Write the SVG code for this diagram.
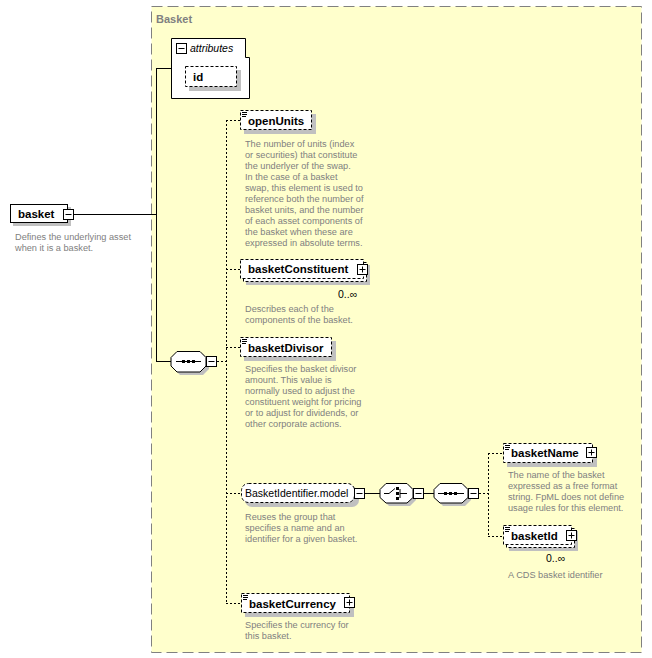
<svg xmlns="http://www.w3.org/2000/svg" xmlns:xlink="http://www.w3.org/1999/xlink" width="652" height="658" viewBox="0 0 652 658">
<style>
.bg{fill:#fff}
.area{fill:#ffffcc;stroke:#808080;stroke-dasharray:11,5}
.box{fill:#fff;stroke:#000;stroke-dasharray:3,2}
.sbox{fill:#fff;stroke:#000}
.shadow{fill:#c0c0c0}
.name{font-family:"Liberation Sans",Arial,sans-serif;font-weight:bold;font-size:11.5px;fill:#000}
.plain{font-family:"Liberation Sans",Arial,sans-serif;font-size:10.5px;fill:#000}
.desc{font-family:"Liberation Sans",Arial,sans-serif;font-size:9.2px;fill:#808080}
.title{font-family:"Liberation Sans",Arial,sans-serif;font-weight:bold;font-size:11px;fill:#808080}
.conn{stroke:#000;fill:none}
.dash{stroke-dasharray:2,2}
.ico{stroke:#000;fill:none}
</style>
<defs>
<g id="minus"><rect x="0" y="0" width="10" height="10" fill="#fff" stroke="#000"/><path d="M2,5H8" stroke="#000"/></g>
<g id="plus"><rect x="0" y="0" width="10" height="10" fill="#fff" stroke="#000"/><path d="M2,5H8M5,2V8" stroke="#000"/></g>
<g id="simple"><path d="M2,2.5H7M2,4.5H7M2,6.5H6" stroke="#000" stroke-width="1"/></g>
</defs>
<rect class="bg" x="0" y="0" width="652" height="658"/>
<g id="basket-group">
<rect class="area" x="151.5" y="6.5" width="490" height="646"/>
<text class="title" x="156" y="23">Basket</text>
</g>
<g id="connectors">
<path class="conn" d="M74,214.5H156.5M156.5,68V361.5M156,68.5H171M156,361.5H171"/>
<path class="conn dash" d="M217,361.5H226.5M226.5,120V603M226,120.5H240M226,269.5H240M226,347.5H240M226,493.5H241M226,603.5H241"/>
<path class="conn" d="M365,493.5H380M424,493.5H434"/>
<path class="conn dash" d="M479,493.5H488.5M488.5,453V536M488,453.5H503M488,536.5H503"/>
</g>
<g id="node-basket">
<rect class="shadow" x="13" y="207" width="58" height="19"/>
<rect class="sbox" x="10.5" y="204.5" width="57" height="18"/>
<text class="name" x="18" y="218">basket</text>
<use xlink:href="#minus" x="63.5" y="209.5"/>
<text class="desc" x="15" y="240">Defines the underlying asset</text>
<text class="desc" x="15" y="251">when it is a basket.</text>
</g>
<g id="node-attributes">
<path class="sbox" d="M171.5,38.5H245.5V57.5H249.5V98.5H171.5Z"/>
<use xlink:href="#minus" x="176.5" y="43.5"/>
<text class="plain" x="190" y="52" font-style="italic">attributes</text>
</g>
<g id="node-id">
<rect class="shadow" x="189" y="70" width="52" height="21"/>
<rect class="box" x="185.5" y="66.5" width="51" height="20"/>
<text class="name" x="193" y="81">id</text>
</g>
<g id="node-sequence">
<path class="shadow" d="M180,354H203L209,360V369L203,375H180L174,369V360Z"/>
<path class="sbox" d="M177,351.5H200L206,357.5V366L200,372H177L171,366V357.5Z"/>
<path class="ico" d="M176,361.5H201"/>
<rect x="182" y="360" width="3" height="3" fill="#000"/><rect x="187" y="360" width="3" height="3" fill="#000"/><rect x="192" y="360" width="3" height="3" fill="#000"/>
<use xlink:href="#minus" x="206.5" y="356.5"/>
</g>
<g id="node-openUnits">
<rect class="shadow" x="244" y="114" width="72" height="20"/>
<rect class="box" x="240.5" y="110.5" width="71" height="19"/>
<use xlink:href="#simple" x="240" y="110"/>
<text class="name" x="248" y="125">openUnits</text>
<text class="desc" x="245" y="147">The number of units (index</text>
<text class="desc" x="245" y="158">or securities) that constitute</text>
<text class="desc" x="245" y="169">the underlyer of the swap.</text>
<text class="desc" x="245" y="180">In the case of a basket</text>
<text class="desc" x="245" y="191">swap, this element is used to</text>
<text class="desc" x="245" y="202">reference both the number of</text>
<text class="desc" x="245" y="213">basket units, and the number</text>
<text class="desc" x="245" y="224">of each asset components of</text>
<text class="desc" x="245" y="235">the basket when these are</text>
<text class="desc" x="245" y="246">expressed in absolute terms.</text>
</g>
<g id="node-basketConstituent">
<rect class="shadow" x="246" y="265" width="124" height="20"/>
<rect class="box" x="243.5" y="262.5" width="123" height="19"/>
<rect class="box" x="240.5" y="259.5" width="123" height="19"/>
<text class="name" x="248" y="273">basketConstituent</text>
<use xlink:href="#plus" x="357.5" y="264.5"/>
<text class="plain" x="338" y="298">0..∞</text>
<text class="desc" x="245" y="312">Describes each of the</text>
<text class="desc" x="245" y="323">components of the basket.</text>
</g>
<g id="node-basketDivisor">
<rect class="shadow" x="244" y="341" width="92" height="20"/>
<rect class="box" x="240.5" y="337.5" width="91" height="19"/>
<use xlink:href="#simple" x="240" y="337"/>
<text class="name" x="248" y="352">basketDivisor</text>
<text class="desc" x="245" y="372">Specifies the basket divisor</text>
<text class="desc" x="245" y="383">amount. This value is</text>
<text class="desc" x="245" y="394">normally used to adjust the</text>
<text class="desc" x="245" y="405">constituent weight for pricing</text>
<text class="desc" x="245" y="416">or to adjust for dividends, or</text>
<text class="desc" x="245" y="427">other corporate actions.</text>
</g>
<g id="node-BasketIdentifier">
<rect class="shadow" x="245" y="487" width="114" height="20" rx="7"/>
<rect class="box" x="241.5" y="483.5" width="113" height="19" rx="7"/>
<text class="plain" x="245" y="497">BasketIdentifier.model</text>
<use xlink:href="#minus" x="354.5" y="488.5"/>
<text class="desc" x="245" y="520">Reuses the group that</text>
<text class="desc" x="245" y="531">specifies a name and an</text>
<text class="desc" x="245" y="542">identifier for a given basket.</text>
</g>
<g id="node-choice">
<path class="shadow" d="M389,486H410L416,492V500L410,506H389L383,500V492Z"/>
<path class="sbox" d="M386,483.5H407L413,489.5V497.5L407,503H386L380,497.5V489.5Z"/>
<path class="ico" d="M384,493.5H389L395,488.5M400,489V498M400,493.5H407"/>
<rect x="396" y="487" width="3" height="3" fill="#000"/><rect x="396" y="492" width="3" height="3" fill="#000"/><rect x="396" y="497" width="3" height="3" fill="#000"/>
<use xlink:href="#minus" x="413.5" y="488.5"/>
</g>
<g id="node-sequence2">
<path class="shadow" d="M443,486H465L471,492V500L465,506H443L437,500V492Z"/>
<path class="sbox" d="M440,483.5H462L468,489.5V497.5L462,503H440L434,497.5V489.5Z"/>
<path class="ico" d="M438,493.5H464"/>
<rect x="444" y="492" width="3" height="3" fill="#000"/><rect x="449" y="492" width="3" height="3" fill="#000"/><rect x="454" y="492" width="3" height="3" fill="#000"/>
<use xlink:href="#minus" x="468.5" y="488.5"/>
</g>
<g id="node-basketName">
<rect class="shadow" x="507" y="447" width="90" height="20"/>
<rect class="box" x="503.5" y="443.5" width="89" height="19"/>
<use xlink:href="#simple" x="503" y="443"/>
<text class="name" x="511" y="457">basketName</text>
<use xlink:href="#plus" x="586.5" y="447.5"/>
<text class="desc" x="508" y="478">The name of the basket</text>
<text class="desc" x="508" y="489">expressed as a free format</text>
<text class="desc" x="508" y="500">string. FpML does not define</text>
<text class="desc" x="508" y="511">usage rules for this element.</text>
</g>
<g id="node-basketId">
<rect class="shadow" x="509" y="531" width="69" height="20"/>
<rect class="box" x="506.5" y="528.5" width="68" height="19"/>
<rect class="box" x="503.5" y="525.5" width="68" height="19"/>
<use xlink:href="#simple" x="503" y="525"/>
<text class="name" x="511" y="540">basketId</text>
<use xlink:href="#plus" x="566.5" y="530.5"/>
<text class="plain" x="546" y="562">0..∞</text>
<text class="desc" x="508" y="578">A CDS basket identifier</text>
</g>
<g id="node-basketCurrency">
<rect class="shadow" x="245" y="597" width="109" height="20"/>
<rect class="box" x="241.5" y="593.5" width="108" height="19"/>
<use xlink:href="#simple" x="241" y="593"/>
<text class="name" x="249" y="608">basketCurrency</text>
<use xlink:href="#plus" x="344.5" y="597.5"/>
<text class="desc" x="245" y="628">Specifies the currency for</text>
<text class="desc" x="245" y="639">this basket.</text>
</g>
</svg>
